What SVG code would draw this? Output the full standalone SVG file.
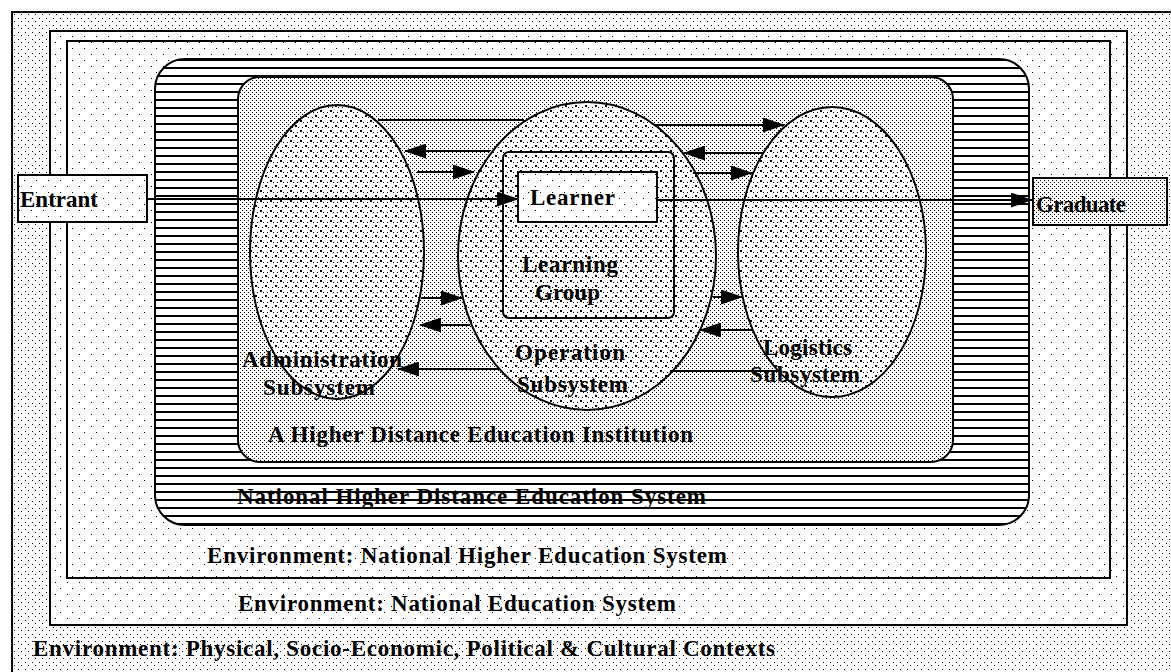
<svg xmlns="http://www.w3.org/2000/svg" width="1171" height="672" viewBox="0 0 1171 672">
<style>
.t{font-family:"Liberation Serif","DejaVu Serif",serif;font-weight:bold;font-size:23px;fill:#000}
.ln{stroke:#000;stroke-width:2}
.c{stroke:#000;stroke-width:2;fill:none}
.ca{stroke:#000;stroke-width:2;fill:none;marker-end:url(#ah)}
</style>
<defs>
<pattern id="pLight" width="7" height="7" patternUnits="userSpaceOnUse">
<rect width="7" height="7" fill="#fff"/>
<rect x="0" y="0" width="1" height="1" fill="#000"/>
<rect x="4" y="4" width="1" height="1" fill="#000"/>
</pattern>
<pattern id="pSparse" width="12" height="12" patternUnits="userSpaceOnUse">
<rect width="12" height="12" fill="#fff"/>
<rect x="0" y="0" width="1" height="1" fill="#000"/>
<rect x="7" y="6" width="1" height="1" fill="#000"/>
</pattern>
<pattern id="pMid" width="4" height="4" patternUnits="userSpaceOnUse">
<rect width="4" height="4" fill="#fff"/>
<rect x="0" y="0" width="1" height="1" fill="#000"/>
<rect x="2" y="2" width="1" height="1" fill="#000"/>
</pattern>
<pattern id="pDense" width="10" height="10" patternUnits="userSpaceOnUse">
<rect width="10" height="10" fill="#fff"/>
<rect x="0" y="0" width="2" height="2" fill="#000"/>
<rect x="5" y="5" width="2" height="2" fill="#000"/>
<rect x="3" y="2" width="1" height="1" fill="#000"/>
<rect x="8" y="7" width="1" height="1" fill="#000"/>
<rect x="2" y="7" width="1" height="1" fill="#000"/>
<rect x="7" y="2" width="1" height="1" fill="#000"/>
</pattern>
<pattern id="pHatch" width="8" height="8" patternUnits="userSpaceOnUse" patternTransform="translate(0,3)">
<rect width="8" height="8" fill="#fff"/>
<rect x="0" y="0" width="8" height="2" fill="#000"/>
</pattern>
<marker id="ah" viewBox="0 0 22 15" refX="21" refY="7.5" markerWidth="22" markerHeight="15" markerUnits="userSpaceOnUse" orient="auto">
<path d="M0,0 L22,7.5 L0,15 z" fill="#000"/>
</marker>
</defs>
<rect width="1171" height="672" fill="#fff"/>

<g id="env-physical">
<rect class="ln" x="12" y="12" width="1200" height="700" fill="url(#pLight)"/>
<text class="t" x="33" y="656" textLength="742">Environment: Physical, Socio-Economic, Political &amp; Cultural Contexts</text>
</g>

<g id="env-national-education">
<rect class="ln" x="50" y="31" width="1077" height="594" fill="url(#pSparse)"/>
<text class="t" x="238" y="611" textLength="438">Environment: National Education System</text>
</g>

<g id="env-national-higher-education">
<rect class="ln" x="67" y="41" width="1043" height="537" fill="url(#pSparse)"/>
<text class="t" x="207" y="563" textLength="520">Environment: National Higher Education System</text>
</g>

<g id="national-higher-distance-education">
<rect class="ln" x="155" y="59" width="874" height="466" rx="30" ry="30" fill="url(#pHatch)"/>
<text class="t" x="237" y="504" textLength="469">National Higher Distance Education System</text>
</g>

<g id="institution">
<rect class="ln" x="238" y="77" width="715" height="385" rx="22" ry="22" fill="url(#pMid)"/>
<text class="t" x="268" y="442" textLength="425">A Higher Distance Education Institution</text>
</g>

<g id="administration-subsystem">
<ellipse class="ln" cx="337" cy="252" rx="87" ry="147" fill="url(#pDense)"/>
</g>

<g id="logistics-subsystem">
<ellipse class="ln" cx="832" cy="252" rx="94" ry="145" fill="url(#pDense)"/>
</g>

<g id="connectors">
<line class="c" x1="378" y1="120" x2="524" y2="120"/>
<line class="ca" x1="655" y1="125" x2="784" y2="125"/>
<line class="c" x1="400" y1="369" x2="502" y2="369"/>
<line class="c" x1="672" y1="371" x2="781" y2="371"/>
</g>

<g id="operation-subsystem">
<ellipse class="ln" cx="587" cy="256" rx="129" ry="154" fill="url(#pDense)"/>
</g>

<g id="connectors-2">
<line class="ca" x1="147" y1="199" x2="518" y2="199"/>
<line class="ca" x1="657" y1="200" x2="1032" y2="200"/>
<line class="ca" x1="490" y1="151" x2="405" y2="151"/>
<line class="ca" x1="417" y1="172" x2="474" y2="172"/>
<line class="ca" x1="763" y1="153" x2="684" y2="153"/>
<line class="ca" x1="693" y1="173" x2="752" y2="173"/>
<line class="ca" x1="421" y1="298" x2="462" y2="298"/>
<line class="ca" x1="470" y1="325" x2="420" y2="325"/>
<line class="ca" x1="430" y1="369" x2="398" y2="369"/>
<line class="ca" x1="713" y1="297" x2="742" y2="297"/>
<line class="ca" x1="752" y1="330" x2="700" y2="330"/>
</g>

<g id="learning-group">
<rect class="ln" x="503" y="152" width="171" height="166" rx="6" ry="6" fill="none"/>
<text class="t" x="522" y="272" textLength="96">Learning</text>
<text class="t" x="535" y="300" textLength="65">Group</text>
</g>

<g id="learner">
<rect class="ln" x="518" y="172" width="139" height="50" fill="url(#pSparse)"/>
<text class="t" x="530" y="205" textLength="85">Learner</text>
</g>

<g id="labels">
<text class="t" x="242" y="367" textLength="160">Administration</text>
<text class="t" x="263" y="395" textLength="112">Subsystem</text>
<text class="t" x="515" y="360" textLength="110">Operation</text>
<text class="t" x="517" y="392" textLength="111">Subsystem</text>
<text class="t" x="763" y="355" textLength="89">Logistics</text>
<text class="t" x="750" y="382" textLength="110">Subsystem</text>
</g>

<g id="entrant">
<rect class="ln" x="18" y="175" width="129" height="47" fill="url(#pSparse)"/>
<text class="t" x="20" y="207" textLength="78">Entrant</text>
</g>

<g id="graduate">
<rect class="ln" x="1033" y="178" width="134" height="47" fill="url(#pMid)"/>
<text class="t" x="1036" y="212" textLength="90">Graduate</text>
</g>
</svg>
